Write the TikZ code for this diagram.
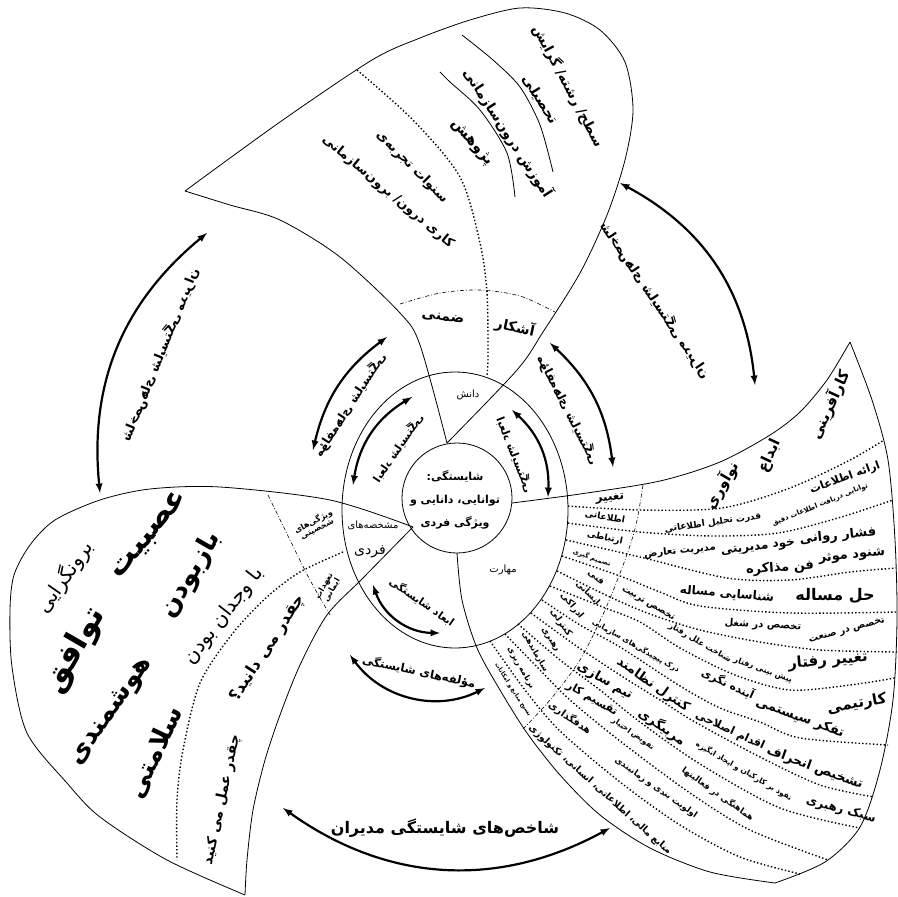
\documentclass[tikz,border=0pt]{standalone}
\usepackage{fontspec}
\newfontfamily\persfont[Script=Arabic]{DejaVu Sans}
\TeXXeTstate=1
\newcommand{\fatxt}[1]{\beginR #1\endR}
\tikzset{
  fa/.style={font=\persfont\fontsize{#1}{#1}\selectfont, inner sep=0pt},
  fab/.style={font=\persfont\bfseries\fontsize{#1}{#1}\selectfont, inner sep=0pt},
  edge/.style={line width=0.8pt},
  dots/.style={line width=1.4pt, dash pattern=on 1.4pt off 2.2pt},
  ddot/.style={line width=0.6pt, dash pattern=on 4pt off 2pt on 0.8pt off 2pt},
  dbl/.style={<->, line width=2.2pt},
}
\begin{document}
\begin{tikzpicture}[x=1pt, y=-1pt, >=latex]
\useasboundingbox (0,0) rectangle (897,897);

% centre
\draw[edge] (457,498) circle[radius=55];
\draw[edge] (455,510) ellipse[x radius=113, y radius=138];

% top petal
\draw[edge] plot[smooth] coordinates {(447,443) (517,370) (543,332) (580,273) (607,215) (625,160) (633,110) (625,62) (600,30) (565,13) (520,8) (470,20) (420,38) (372,60) (280,122) (185,191)};
\draw[edge] plot[smooth] coordinates {(185,191) (230,205) (280,220) (340,257) (400,313) (420,345) (447,443)};
\draw[edge] plot[smooth] coordinates {(462,35) (493,60) (520,87) (540,125) (553,172)};
\draw[edge] plot[smooth] coordinates {(440,72) (450,82) (480,110) (507,153) (515,197)};
\draw[dots] plot[smooth] coordinates {(357,70) (413,120) (460,177) (480,243) (487,293) (488,357) (487,375)};
\draw[ddot] plot[smooth] coordinates {(400,304) (440,293) (480,290) (520,296) (555,312)};

% right petal
\draw[edge] plot[smooth] coordinates {(512,503) (580,494) (660,481) (720,462) (770,435) (800,412) (827,380) (850,342)};
\draw[edge] plot[smooth] coordinates {(850,342) (872,400) (888,460) (895,540) (897,620) (893,700) (880,770) (860,827) (825,862) (775,883)};
\draw[edge] plot[smooth] coordinates {(457,553) (462,600) (477,648) (500,690) (527,733) (560,775) (600,815) (650,848) (710,872) (775,883)};
\draw[ddot] plot[smooth] coordinates {(643,485) (636,525) (625,560) (605,610) (580,660) (550,700) (522,730)};
\foreach \pts in {
  {(568,506) (640,510) (722,508) (790,488) (850,460) (884,440)},
  {(568,523) (640,532) (713,536) (778,533) (838,518) (893,500)},
  {(566,540) (640,557) (727,578) (790,580) (850,572) (896,568)},
  {(562,556) (620,576) (660,592) (700,606) (790,613) (897,612)},
  {(557,571) (610,597) (650,614) (700,630) (760,642) (820,650) (897,652)},
  {(550,586) (600,606) (640,622) (680,648) (735,675) (790,690) (850,685) (895,678)},
  {(542,600) (580,625) (620,647) (680,686) (720,708) (760,722) (800,738) (888,745)},
  {(531,613) (575,645) (620,675) (660,700) (695,722) (760,757) (820,785) (874,797)},
  {(518,624) (560,660) (600,690) (640,722) (700,764) (780,808) (860,828)},
  {(505,634) (540,670) (570,700) (620,741) (690,793) (750,830) (828,860)},
  {(490,641) (525,690) (560,731) (620,782) (680,825) (740,857) (800,874)}}
{
  \draw[dots] plot[smooth] coordinates \pts;
}

% left petal
\draw[edge] plot[smooth] coordinates {(413,527) (330,500) (220,487) (150,489) (100,500) (55,520) (30,545) (14,575) (10,610) (12,667) (27,733) (67,783) (100,817) (167,860) (245,895)};
\draw[edge] plot[smooth] coordinates {(245,895) (247,860) (253,810) (265,760) (280,715) (300,665) (327,615) (363,578) (413,527)};
\draw[ddot] plot[smooth] coordinates {(268,495) (290,540) (310,580) (330,615)};
\draw[dots] plot[smooth] coordinates {(343,552) (300,572) (267,597) (233,633) (200,683) (183,750) (177,800) (177,860)};

% arrows
\coordinate (o1a) at (283,808); \coordinate (o1b) at (610,828);
\coordinate (o2a) at (207,233); \coordinate (o2b) at (100,493);
\coordinate (o3a) at (620,183); \coordinate (o3b) at (755,385);
\coordinate (m1a) at (350,655); \coordinate (m1b) at (485,688);
\coordinate (m2a) at (313,450); \coordinate (m2b) at (387,337);
\coordinate (m3a) at (550,343); \coordinate (m3b) at (613,467);
\coordinate (i1a) at (373,585); \coordinate (i1b) at (440,633);
\coordinate (i2a) at (353,485); \coordinate (i2b) at (412,397);
\coordinate (i3a) at (512,410); \coordinate (i3b) at (548,497);
\draw[dbl] (o1a) to[bend right=32] (o1b);
\draw[dbl] (o2a) to[bend right=28] (o2b);
\draw[dbl] (o3a) to[bend left=28] (o3b);
\draw[dbl] (m1a) to[bend right=40] (m1b);
\draw[dbl] (m2a) to[bend left=20] (m2b);
\draw[dbl] (m3a) to[bend left=20] (m3b);
\draw[dbl] (i1a) to[bend right=35] (i1b);
\draw[dbl] (i2a) to[bend left=25] (i2b);
\draw[dbl] (i3a) to[bend left=25] (i3b);

\node[fab=16] (o1t) at (445,828) {\fatxt{شاخص‌های شایستگی مدیران}};
\node[fab=13, rotate=68, xscale=-1] (o2t) at (160,355) {\fatxt{شاخص‌های شایستگی مدیران}};
\node[fab=13, rotate=-56, xscale=-1] (o3t) at (655,300) {\fatxt{شاخص‌های شایستگی مدیران}};
\node[fab=11.5, rotate=-12] (m1t) at (419,672) {\fatxt{مؤلفه‌های شایستگی}};
\node[fab=12, rotate=57, xscale=-1] (m2t) at (350,405) {\fatxt{مؤلفه‌های شایستگی}};
\node[fab=12, rotate=-63, xscale=-1] (m3t) at (568,410) {\fatxt{مؤلفه‌های شایستگی}};
\node[fab=10.5, rotate=-35] (i1t) at (422,602) {\fatxt{ابعاد شایستگی}};
\node[fab=11, rotate=56, xscale=-1] (i2t) at (398,448) {\fatxt{ابعاد شایستگی}};
\node[fab=11, rotate=-68, xscale=-1] (i3t) at (515,455) {\fatxt{ابعاد شایستگی}};

% centre labels
\node[fab=11, align=center, font=\persfont\bfseries\fontsize{11}{23}\selectfont] (core) at (455,500) {\fatxt{شایستگی:}\\\fatxt{توانایی، دانایی و}\\\fatxt{ویژگی فردی}};
\node[fa=10] (dn) at (468,395) {\fatxt{دانش}};
\node[fa=10] (mf) at (373,525) {\fatxt{مشخصه‌های}};
\node[fa=14] (fd) at (370,552) {\fatxt{فردی}};
\node[fa=10] (mh) at (503,570) {\fatxt{مهارت}};

% top petal labels
\node[fab=13.5, rotate=-62] (tp1) at (568,86) {\fatxt{سطح/ رشته/ گرایش}};
\node[fab=14, rotate=-58] (tp2) at (540,100) {\fatxt{تحصیلی}};
\node[fab=14, rotate=-57] (tp3) at (508,133) {\fatxt{آموزش درون‌سازمانی}};
\node[fab=15, rotate=-50] (tp4) at (472,143) {\fatxt{پژوهش}};
\node[fab=13, rotate=-45] (tp5) at (412,167) {\fatxt{سنوات تجربه‌ی}};
\node[fab=13, rotate=-40] (tp6) at (388,192) {\fatxt{کاری درون/ برون‌سازمانی}};
\node[fab=14, rotate=-8] (tp7) at (443,318) {\fatxt{ضمنی}};
\node[fab=14, rotate=-12] (tp8) at (515,327) {\fatxt{آشکار}};

% left petal labels
\node[fab=30, rotate=50] (lp1) at (150,535) {\fatxt{عصبیت}};
\node[fa=20, rotate=55] (lp2) at (65,577) {\fatxt{برونگرایی}};
\node[fab=32, rotate=60] (lp3) at (75,650) {\fatxt{توافق}};
\node[fab=26, rotate=55] (lp4) at (112,712) {\fatxt{هوشمندی}};
\node[fab=26, rotate=65] (lp5) at (155,752) {\fatxt{سلامتی}};
\node[fab=26, rotate=60] (lp6) at (191,575) {\fatxt{بازبودن}};
\node[fa=20, rotate=52] (lp7) at (224,616) {\fatxt{با وجدان بودن}};
\node[fab=16, rotate=57] (lp8) at (268,648) {\fatxt{چقدر می دانید؟}};
\node[fab=14, rotate=78] (lp9) at (222,800) {\fatxt{چقدر عمل می کنید}};
\node[fab=8, rotate=27, align=center] (lp10) at (315,525) {\fatxt{ویژگی‌های}\\\fatxt{شخصیتی}};
\node[fab=8, rotate=60, align=center] (lp11) at (328,588) {\fatxt{تعهدات}\\\fatxt{ایمانی}};

% right petal: categories
\node[fab=12, rotate=5] (rp8) at (610,499) {\fatxt{تغییر}};
\node[fab=9, rotate=-10] (rp9) at (605,517) {\fatxt{اطلاعاتی}};
\node[fab=9, rotate=-12] (rp10) at (605,538) {\fatxt{ارتباطی}};
\node[fab=6.5, rotate=-20] (rp11) at (592,558) {\fatxt{تصمیم گیری}};
\node[fab=9, rotate=-40] (rp12) at (596,578) {\fatxt{فنی}};
\node[fab=8.5, rotate=-45] (rp13) at (588,593) {\fatxt{انسانی}};
\node[fab=9, rotate=-50] (rp14) at (572,606) {\fatxt{ادراکی}};
\node[fab=9, rotate=-55] (rp15) at (561,623) {\fatxt{کنترلی}};
\node[fab=8.5, rotate=-57] (rp16) at (550,640) {\fatxt{رهبری}};
\node[fab=8, rotate=-60] (rp17) at (535,652) {\fatxt{سازماندهی}};
\node[fab=8, rotate=-60] (rp18) at (521,668) {\fatxt{برنامه ریزی}};
\node[fab=6, rotate=-57] (rp19) at (513,690) {\fatxt{بسیج منابع و امکانات}};

% right petal: items
\node[fab=15, rotate=65] (rp1) at (830,405) {\fatxt{کارآفرینی}};
\node[fab=15, rotate=65] (rp2) at (770,456) {\fatxt{ابداع}};
\node[fab=15, rotate=60] (rp3) at (722,485) {\fatxt{نوآوری}};
\node[fab=11, rotate=20] (rp4) at (845,478) {\fatxt{ارائه اطلاعات}};
\node[fab=7, rotate=22] (rp5) at (820,505) {\fatxt{توانایی دریافت اطلاعات دقیق}};
\node[fab=9, rotate=8] (rp6) at (713,523) {\fatxt{قدرت تحلیل اطلاعاتی}};
\node[fab=13, rotate=6] (rp7) at (838,536) {\fatxt{فشار روانی}};
\node[fab=10, rotate=6] (rp20) at (680,551) {\fatxt{مدیریت تعارض}};
\node[fab=12, rotate=7] (rp21) at (758,548) {\fatxt{خود مدیریتی}};
\node[fab=13, rotate=6] (rp22) at (852,556) {\fatxt{شنود موثر}};
\node[fab=13, rotate=4] (rp23) at (780,568) {\fatxt{فن مذاکره}};
\node[fab=12, rotate=-5] (rp24) at (727,594) {\fatxt{شناسایی مساله}};
\node[fab=16, rotate=0] (rp25) at (835,596) {\fatxt{حل مساله}};
\node[fab=9, rotate=-30] (rp26) at (648,604) {\fatxt{تخصص تربیت}};
\node[fab=10, rotate=-3] (rp27) at (763,625) {\fatxt{تخصص در شغل}};
\node[fab=9.5, rotate=15] (rp28) at (847,631) {\fatxt{تخصص در صنعت}};
\node[fab=8, rotate=-30] (rp29) at (700,643) {\fatxt{شناخت علل رفتار}};
\node[fab=7.5, rotate=-30] (rp30) at (636,646) {\fatxt{درک پیچیدگی‌های سازمانی}};
\node[fab=8, rotate=-20] (rp31) at (763,670) {\fatxt{پیش بینی رفتار}};
\node[fab=15, rotate=5] (rp32) at (828,661) {\fatxt{تغییر رفتار}};
\node[fab=11, rotate=-25] (rp33) at (728,684) {\fatxt{آینده نگری}};
\node[fab=15, rotate=10] (rp34) at (857,704) {\fatxt{کارتیمی}};
\node[fab=13, rotate=-20] (rp35) at (800,718) {\fatxt{تفکر سیستمی}};
\node[fab=13, rotate=-35] (rp36) at (653,685) {\fatxt{کنترل نظامند}};
\node[fab=13, rotate=-30] (rp37) at (605,681) {\fatxt{تیم سازی}};
\node[fab=11, rotate=-30] (rp38) at (592,699) {\fatxt{تقسیم کار}};
\node[fab=13, rotate=-35] (rp39) at (662,727) {\fatxt{مربیگری}};
\node[fab=10, rotate=-35] (rp40) at (570,718) {\fatxt{هدفگذاری}};
\node[fab=7.5, rotate=-35] (rp41) at (633,734) {\fatxt{تفویض اختیار}};
\node[fab=11, rotate=-25] (rp42) at (730,731) {\fatxt{اقدام اصلاحی}};
\node[fab=13, rotate=-20] (rp43) at (815,768) {\fatxt{تشخیص انحراف}};
\node[fab=7.5, rotate=-30] (rp44) at (744,771) {\fatxt{نفوذ بر کارکنان و ایجاد انگیزه}};
\node[fab=12, rotate=-15] (rp45) at (841,810) {\fatxt{سبک رهبری}};
\node[fab=8.5, rotate=-35] (rp46) at (718,794) {\fatxt{هماهنگی در فعالیتها}};
\node[fab=8.5, rotate=-35] (rp47) at (656,788) {\fatxt{اولویت بندی و زمانبندی}};
\node[fab=9.5, rotate=-42] (rp48) at (600,790) {\fatxt{منابع مالی، اطلاعاتی، انسانی، تکنولوژی}};

\end{tikzpicture}
\end{document}
